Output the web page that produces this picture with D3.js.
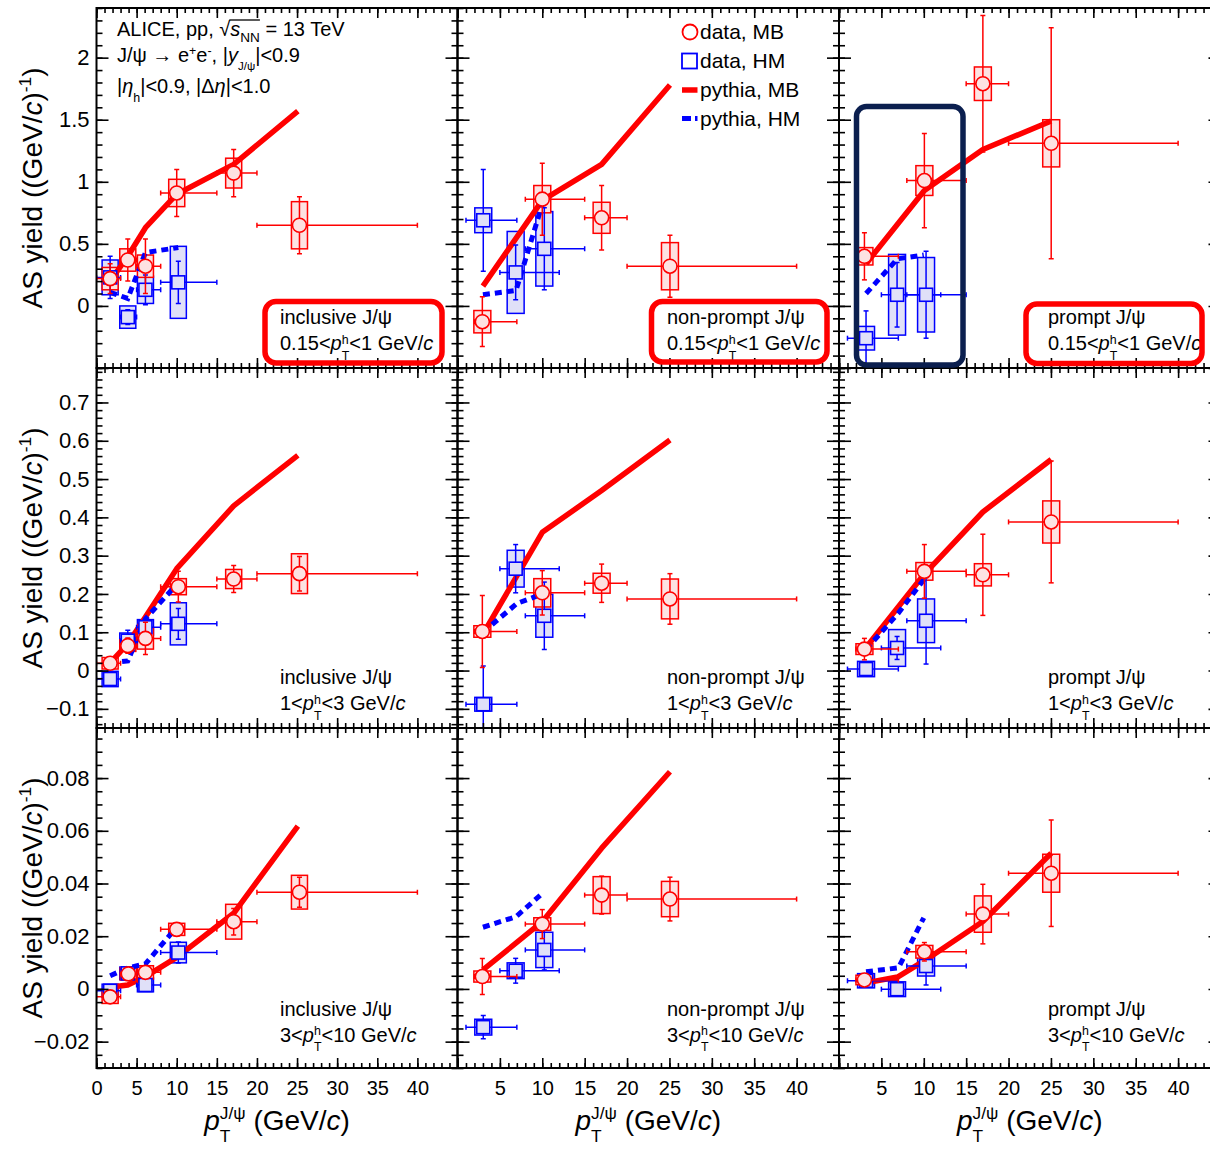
<!DOCTYPE html>
<html><head><meta charset="utf-8">
<script src="https://cdn.jsdelivr.net/npm/d3@7/dist/d3.min.js"></script>
<style>
body{margin:0;background:#fff;}
svg{display:block;font-family:"Liberation Sans",Arial,Helvetica,sans-serif;}
text{white-space:pre;}
</style></head><body>
<svg id="c" width="1210" height="1149"></svg>
<script>
// ================= DATA =================
// tick labels
const xTickValues = [0,5,10,15,20,25,30,35,40];
const yTicksLow  = [0,0.5,1,1.5,2];
const yTicksMid  = [-0.1,0,0.1,0.2,0.3,0.4,0.5,0.6,0.7];
const yTicksHigh = [-0.02,0,0.02,0.04,0.06,0.08];

const speciesNames = ["inclusive J/\u03c8","non-prompt J/\u03c8","prompt J/\u03c8"];
const hadronPtLow  = ["0.15","1","3"];
const hadronPtHigh = ["1","3","10"];

// data points: [pT, binLow, binHigh, yield, statErr, sysErr]
// pythia curves: [pT, yield]
// ---- 0.15 < pT(h) < 1 ----
const inclLowMB = [[1.7,0,3,0.22,0.12,0.09],[3.9,3,5,0.37,0.17,0.09],[6.1,5,8,0.32,0.22,0.09],[10.0,8,15,0.91,0.19,0.11],[17.1,15,20,1.07,0.19,0.12],[25.3,20,40,0.65,0.23,0.19]];
const inclLowHM = [[1.7,0,3,0.23,0.17,0.14],[3.9,3,5,-0.09,0.06,0.09],[6.1,5,8,0.13,0.12,0.11],[10.2,8,15,0.19,0.17,0.29]];
const inclLowPyMB = [[1.7,0.20],[3.9,0.40],[6.1,0.63],[10.0,0.90],[17.1,1.14],[25.1,1.57]];
const inclLowPyHM = [[1.7,0.11],[3.9,0.06],[6.1,0.43],[10.2,0.47]];

const npLowMB = [[2.93,2,7,-0.127,0.2,0.09],[10.0,8,15,0.86,0.29,0.11],[17.0,15,20,0.71,0.26,0.125],[25.06,20,40,0.32,0.25,0.19]];
const npLowHM = [[3.04,1,7,0.69,0.41,0.10],[6.86,5,12,0.27,0.22,0.33],[10.24,8,15,0.46,0.33,0.30]];
const npLowPyMB = [[3.0,0.16],[10.0,0.85],[17.0,1.14],[25.06,1.78]];
const npLowPyHM = [[3.0,0.09],[6.9,0.125],[10.1,0.84]];

const prLowMB = [[3.0,2,7,0.40,0.19,0.07],[10.07,8,15,1.01,0.38,0.12],[16.97,15,20,1.79,0.55,0.135],[25.03,20,40,1.31,0.93,0.19]];
const prLowHM = [[3.19,1,7,-0.26,0.22,0.095],[6.85,5,12,0.09,0.26,0.325],[10.27,8,15,0.09,0.35,0.30]];
const prLowPyMB = [[3.19,0.34],[10.07,0.93],[16.97,1.26],[25.03,1.49]];
const prLowPyHM = [[3.19,0.10],[6.9,0.38],[10.0,0.41]];

// ---- 1 < pT(h) < 3 ----
const inclMidMB = [[1.7,0,3,0.019,0.012,0.015],[3.9,3,5,0.065,0.02,0.015],[6.1,5,8,0.084,0.042,0.028],[10.2,8,15,0.219,0.04,0.021],[17.1,15,20,0.239,0.035,0.025],[25.3,20,40,0.253,0.045,0.052]];
const inclMidHM = [[1.7,0,3,-0.022,0.012,0.02],[3.9,3,5,0.078,0.027,0.02],[6.1,5,8,0.113,0.02,0.02],[10.2,8,15,0.122,0.04,0.055]];
const inclMidPyMB = [[1.7,0.02],[3.9,0.07],[6.1,0.14],[10.0,0.266],[17.1,0.43],[25.1,0.562]];
const inclMidPyHM = [[1.7,0.02],[3.9,0.025],[6.1,0.135],[10.0,0.225]];

const npMidMB = [[2.93,2,7,0.102,0.094,0.015],[10.0,8,15,0.203,0.058,0.037],[17.0,15,20,0.228,0.05,0.026],[25.06,20,40,0.187,0.066,0.052]];
const npMidHM = [[3.04,1,7,-0.088,0.1,0.018],[6.86,5,12,0.266,0.063,0.048],[10.24,8,15,0.143,0.088,0.056]];
const npMidPyMB = [[3.0,0.095],[10.0,0.361],[17.0,0.47],[25.06,0.602]];
const npMidPyHM = [[3.0,0.10],[7.0,0.175],[10.0,0.20]];

const prMidMB = [[3.0,2,7,0.056,0.028,0.014],[10.07,8,15,0.259,0.07,0.023],[16.97,15,20,0.25,0.106,0.029],[25.03,20,40,0.388,0.159,0.055]];
const prMidHM = [[3.19,1,7,0.004,0.015,0.02],[6.85,5,12,0.059,0.03,0.048],[10.27,8,15,0.13,0.113,0.057]];
const prMidPyMB = [[3.19,0.06],[10.07,0.252],[16.97,0.414],[25.03,0.551]];
const prMidPyHM = [[3.19,0.055],[7.0,0.15],[10.27,0.245]];

// ---- 3 < pT(h) < 10 ----
const inclHighMB = [[1.7,0,3,-0.003,0.002,0.0025],[3.97,3,5,0.0057,0.002,0.0023],[6.1,5,8,0.0063,0.002,0.0025],[10.0,8,15,0.0226,0.002,0.0023],[17.1,15,20,0.0255,0.005,0.0066],[25.3,20,40,0.0367,0.0057,0.0064]];
const inclHighHM = [[1.7,0,3,-0.0007,0.002,0.0025],[3.9,3,5,0.0059,0.002,0.0024],[6.1,5,8,0.0015,0.002,0.0026],[10.2,8,15,0.0138,0.004,0.0039]];
const inclHighPyMB = [[1.7,0.0006],[3.9,0.0015],[6.1,0.0047],[10.0,0.012],[17.1,0.0287],[25.1,0.0618]];
const inclHighPyHM = [[1.7,0.005],[3.9,0.008],[6.1,0.0095],[10.0,0.0235]];

const npHighMB = [[2.93,2,7,0.0047,0.0068,0.0021],[10.0,8,15,0.0246,0.0055,0.0024],[17.0,15,20,0.0356,0.0072,0.007],[25.06,20,40,0.0341,0.0083,0.0067]];
const npHighHM = [[3.04,1,7,-0.0145,0.0044,0.003],[6.86,5,12,0.0069,0.0047,0.003],[10.24,8,15,0.0148,0.0076,0.0067]];
const npHighPyMB = [[3.0,0.0072],[10.0,0.0255],[17.0,0.0534],[25.06,0.0824]];
const npHighPyHM = [[3.0,0.0234],[6.9,0.0274],[10.1,0.0365]];

const prHighMB = [[3.0,2,7,0.0034,0.0015,0.0018],[10.07,8,15,0.0141,0.0035,0.0024],[16.97,15,20,0.0284,0.0113,0.0069],[25.03,20,40,0.0439,0.0202,0.0072]];
const prHighHM = [[3.19,1,7,0.0031,0.0015,0.0027],[6.85,5,12,-0.0001,0.0015,0.0028],[10.27,8,15,0.0087,0.0072,0.0038]];
const prHighPyMB = [[3.0,0.0022],[6.9,0.0045],[10.27,0.0111],[16.97,0.0256],[25.03,0.0515]];
const prHighPyHM = [[3.19,0.0065],[7.0,0.008],[10.0,0.027]];

// ================= LAYOUT =================
const panels = [
 {row:0,col:0,mb:inclLowMB,hm:inclLowHM,pyMB:inclLowPyMB,pyHM:inclLowPyHM},
 {row:0,col:1,mb:npLowMB,hm:npLowHM,pyMB:npLowPyMB,pyHM:npLowPyHM},
 {row:0,col:2,mb:prLowMB,hm:prLowHM,pyMB:prLowPyMB,pyHM:prLowPyHM},
 {row:1,col:0,mb:inclMidMB,hm:inclMidHM,pyMB:inclMidPyMB,pyHM:inclMidPyHM},
 {row:1,col:1,mb:npMidMB,hm:npMidHM,pyMB:npMidPyMB,pyHM:npMidPyHM},
 {row:1,col:2,mb:prMidMB,hm:prMidHM,pyMB:prMidPyMB,pyHM:prMidPyHM},
 {row:2,col:0,mb:inclHighMB,hm:inclHighHM,pyMB:inclHighPyMB,pyHM:inclHighPyHM},
 {row:2,col:1,mb:npHighMB,hm:npHighHM,pyMB:npHighPyMB,pyHM:npHighPyHM},
 {row:2,col:2,mb:prHighMB,hm:prHighHM,pyMB:prHighPyMB,pyHM:prHighPyHM}
];
const COLS = [[96.5,457.5],[457.5,839],[839,1220.5]];
const ROWS = [[8,368],[368,728],[728,1068]];
const xDomain = [0,45];
const yDomains = [[-0.5,2.4],[-0.15,0.79],[-0.03,0.099]];
const yMajor = [yTicksLow,yTicksMid,yTicksHigh];
const yMajorAll = [d3.range(-1,5).map(i=>i*0.5), d3.range(-1,8).map(i=>i/10), d3.range(-1,5).map(i=>i*0.02)];
const yMinor = [d3.range(-5,25).map(i=>i/10), d3.range(-7,40).map(i=>i*0.02), d3.range(-6,20).map(i=>i*0.005)];
const xMinor = d3.range(0,46);
const xMajorAll = d3.range(0,46,5);

const RED="#ff0000", BLUE="#0000ff", REDF="#fde2e2", BLUEF="#e0e0f8";
const FONT = "'Liberation Sans', Arial, Helvetica, sans-serif";
const svg = d3.select("#c");
svg.append("rect").attr("width",1210).attr("height",1149).attr("fill","#fff");

const fmtNum = v => v < 0 ? "\u2212" + String(+(-v).toFixed(4)) : String(+v.toFixed(4));

// rich text helper: segments {t, i} or {sup, sub}
function rich(parent, x, y, segs, size, anchor, fill) {
  const g = parent.append("g").attr("fill", fill || "#000").attr("font-family", FONT);
  let cx = 0; const ovs = [];
  segs.forEach(s => {
    if (s.sup !== undefined || s.sub !== undefined) {
      const fs = size*(s.scale||0.62); let w = 0;
      if (s.sup !== undefined) {
        const t = g.append("text").attr("x",cx).attr("y",-size*(s.supDy||0.36)).attr("font-size",fs).text(s.sup);
        w = Math.max(w, t.node().getComputedTextLength());
      }
      if (s.sub !== undefined) {
        const t = g.append("text").attr("x",cx).attr("y",size*(s.subDy||0.46)).attr("font-size",fs).text(s.sub);
        w = Math.max(w, t.node().getComputedTextLength());
      }
      if (s.ov) ovs.push([cx, cx+w]);
      cx += w;
    } else {
      const t = g.append("text").attr("x",cx).attr("y",0).attr("font-size",size).text(s.t);
      if (s.i) t.attr("font-style","italic");
      const w = t.node().getComputedTextLength();
      if (s.ov) ovs.push([cx, cx+w]);
      cx += w;
    }
  });
  if (ovs.length) {
    g.append("line").attr("x1",d3.min(ovs,d=>d[0])-1).attr("x2",d3.max(ovs,d=>d[1]))
      .attr("y1",-size*0.8).attr("y2",-size*0.8).attr("stroke",fill||"#000").attr("stroke-width",1.3);
  }
  const off = anchor==="middle" ? -cx/2 : anchor==="end" ? -cx : 0;
  g.attr("transform",`translate(${x+off},${y})`);
  return g;
}

function drawBoxes(g, data, x, y, col, fillc) {
  g.append("g").selectAll("rect").data(data).join("rect")
    .attr("x", d => x(d[0]-1)).attr("width", d => x(d[0]+1)-x(d[0]-1))
    .attr("y", d => y(d[3]+d[5])).attr("height", d => y(d[3]-d[5])-y(d[3]+d[5]))
    .attr("fill", fillc).attr("stroke", col).attr("stroke-width",1.5);
}
function drawErr(g, data, x, y, col) {
  const eg = g.append("g").attr("stroke", col).attr("stroke-width",1.5);
  eg.selectAll(".v").data(data).join("line").attr("class","v")
    .attr("x1",d=>x(d[0])).attr("x2",d=>x(d[0])).attr("y1",d=>y(d[3]-d[4])).attr("y2",d=>y(d[3]+d[4]));
  eg.selectAll(".h").data(data).join("line").attr("class","h")
    .attr("x1",d=>x(d[1])).attr("x2",d=>x(d[2])).attr("y1",d=>y(d[3])).attr("y2",d=>y(d[3]));
  const vc = data.flatMap(d => [[d[0], d[3]-d[4]],[d[0], d[3]+d[4]]]);
  eg.selectAll(".vc").data(vc).join("line").attr("class","vc")
    .attr("x1",d=>x(d[0])-2.5).attr("x2",d=>x(d[0])+2.5).attr("y1",d=>y(d[1])).attr("y2",d=>y(d[1]));
  const hc = data.flatMap(d => [[d[1], d[3]],[d[2], d[3]]]);
  eg.selectAll(".hc").data(hc).join("line").attr("class","hc")
    .attr("x1",d=>x(d[0])).attr("x2",d=>x(d[0])).attr("y1",d=>y(d[1])-2.5).attr("y2",d=>y(d[1])+2.5);
}

panels.forEach(p => {
  const [c0,c1] = COLS[p.col], [r0,r1] = ROWS[p.row];
  const x = d3.scaleLinear().domain(xDomain).range([c0,c1]);
  const y = d3.scaleLinear().domain(yDomains[p.row]).range([r1,r0]);
  const id = `clip${p.row}${p.col}`;
  svg.append("clipPath").attr("id",id).append("rect")
    .attr("x",c0).attr("y",r0).attr("width",c1-c0).attr("height",r1-r0);
  const g = svg.append("g").attr("clip-path",`url(#${id})`);

  drawBoxes(g, p.hm, x, y, BLUE, BLUEF);
  drawBoxes(g, p.mb, x, y, RED, REDF);

  const line = d3.line().x(d=>x(d[0])).y(d=>y(d[1]));
  g.append("path").datum(p.pyMB).attr("d",line).attr("fill","none")
    .attr("stroke",RED).attr("stroke-width",5.5).attr("stroke-linejoin","round");
  g.append("path").datum(p.pyHM).attr("d",line).attr("fill","none")
    .attr("stroke",BLUE).attr("stroke-width",5).attr("stroke-dasharray","7,5");

  drawErr(g, p.hm, x, y, BLUE);
  g.append("g").selectAll("rect").data(p.hm).join("rect")
    .attr("x",d=>x(d[0])-6.5).attr("y",d=>y(d[3])-6.5).attr("width",13).attr("height",13)
    .attr("fill",BLUEF).attr("stroke",BLUE).attr("stroke-width",1.6);
  drawErr(g, p.mb, x, y, RED);
  g.append("g").selectAll("circle").data(p.mb).join("circle")
    .attr("cx",d=>x(d[0])).attr("cy",d=>y(d[3])).attr("r",7)
    .attr("fill",REDF).attr("stroke",RED).attr("stroke-width",1.6);

  // frame
  svg.append("rect").attr("x",c0).attr("y",r0).attr("width",c1-c0).attr("height",r1-r0)
    .attr("fill","none").attr("stroke","#000").attr("stroke-width",2);

  // axes (ticks inward)
  const ax = svg.append("g").attr("color","#000");
  function addAxis(gen, tr, size, vals, fmt, fs) {
    const a = ax.append("g").attr("transform",tr)
      .call(gen.tickValues(vals).tickSize(-size).tickSizeOuter(0).tickFormat(fmt || (()=>"")));
    a.select(".domain").remove();
    a.selectAll("line").attr("stroke-width",1.6);
    a.selectAll("text").attr("font-size",fs||20).attr("font-family",FONT).attr("fill","#000");
    return a;
  }
  const yLab = v => yMajor[p.row].some(t => Math.abs(t-v)<1e-9) ? fmtNum(v) : "";
  addAxis(d3.axisLeft(y).tickPadding(7), `translate(${c0},0)`, 12, yMajorAll[p.row], p.col===0 ? yLab : null, 22);
  addAxis(d3.axisLeft(y), `translate(${c0},0)`, 6, yMinor[p.row]);
  addAxis(d3.axisRight(y), `translate(${c1},0)`, 12, yMajorAll[p.row]);
  addAxis(d3.axisRight(y), `translate(${c1},0)`, 6, yMinor[p.row]);
  const xLab = v => (p.row===2 && xTickValues.includes(v) && !(p.col>0 && v===0)) ? String(v) : "";
  addAxis(d3.axisBottom(x).tickPadding(13), `translate(0,${r1})`, 10, xMajorAll, xLab, 20);
  addAxis(d3.axisBottom(x), `translate(0,${r1})`, 5, xMinor);
  addAxis(d3.axisTop(x), `translate(0,${r0})`, 10, xMajorAll);
  addAxis(d3.axisTop(x), `translate(0,${r0})`, 5, xMinor);
});

// panel labels
const labelX = [280, 667, 1048];
const labelY = [[324,350],[684,710],[1016,1041.5]];
panels.forEach(p => {
  const lx = labelX[p.col], [b1,b2] = labelY[p.row];
  rich(svg, lx, b1, [{t:speciesNames[p.col]}], 20);
  rich(svg, lx, b2, [{t:hadronPtLow[p.row]+"<"},{t:"p",i:1},{sup:"h",sub:"T",supDy:0.32,subDy:0.48},{t:"<"+hadronPtHigh[p.row]+" GeV/"},{t:"c",i:1}], 20);
});

// axis titles
ROWS.forEach(([r0,r1]) => {
  const gy = svg.append("g").attr("transform",`translate(42,${(r0+r1)/2}) rotate(-90)`);
  rich(gy, 0, 0, [{t:"AS yield ((GeV/"},{t:"c",i:1},{t:")"},{sup:"-1",supDy:0.4},{t:")"}], 28, "middle");
});
COLS.forEach(([c0,c1]) => {
  rich(svg, (c0+c1)/2, 1130, [{t:"p",i:1},{sup:"J/\u03c8",sub:"T",supDy:0.38,subDy:0.42},{t:" (GeV/"},{t:"c",i:1},{t:")"}], 28, "middle");
});

// ALICE info text
rich(svg, 117, 36, [{t:"ALICE, pp, "},{t:"\u221a"},{t:"s",i:1,ov:1},{sub:"NN",ov:1,subDy:0.3,scale:0.68},{t:" = 13 TeV"}], 20);
rich(svg, 117, 62, [{t:"J/\u03c8 \u2192 e"},{sup:"+",supDy:0.35},{t:"e"},{sup:"-",supDy:0.35},{t:", |"},{t:"y",i:1},{sub:"J/\u03c8",subDy:0.4,scale:0.58},{t:"|<0.9"}], 20);
rich(svg, 117, 93, [{t:"|"},{t:"\u03b7",i:1},{sub:"h",subDy:0.45},{t:"|<0.9, |\u0394"},{t:"\u03b7",i:1},{t:"|<1.0"}], 20);

// legend (in top-middle panel)
const lg = svg.append("g");
lg.append("circle").attr("cx",690).attr("cy",32).attr("r",7.5).attr("fill","#fff").attr("stroke",RED).attr("stroke-width",1.8);
lg.append("rect").attr("x",682).attr("y",53.5).attr("width",15).attr("height",15).attr("fill","#fff").attr("stroke",BLUE).attr("stroke-width",1.8);
lg.append("line").attr("x1",682).attr("x2",697.5).attr("y1",90).attr("y2",90).attr("stroke",RED).attr("stroke-width",5.5);
lg.append("line").attr("x1",682).attr("x2",697.5).attr("y1",118.5).attr("y2",118.5).attr("stroke",BLUE).attr("stroke-width",5).attr("stroke-dasharray","9,4,3,10");
["data, MB","data, HM","pythia, MB","pythia, HM"].forEach((t,i) => rich(lg, 700, [39,68,96.5,125.5][i], [{t}], 21));

// highlight boxes
const hl = svg.append("g").attr("fill","none");
hl.append("rect").attr("x",265).attr("y",301.5).attr("width",177).attr("height",61.5).attr("rx",11).attr("stroke",RED).attr("stroke-width",5.5);
hl.append("rect").attr("x",651.5).attr("y",301.5).attr("width",175.5).attr("height",60.5).attr("rx",11).attr("stroke",RED).attr("stroke-width",5.5);
hl.append("rect").attr("x",1026).attr("y",304).attr("width",176).attr("height",59.5).attr("rx",11).attr("stroke",RED).attr("stroke-width",5.5);
hl.append("rect").attr("x",856.5).attr("y",106.5).attr("width",106.5).attr("height",258.5).attr("rx",10).attr("stroke","#0b1f4f").attr("stroke-width",5.5);
</script>
</body></html>
